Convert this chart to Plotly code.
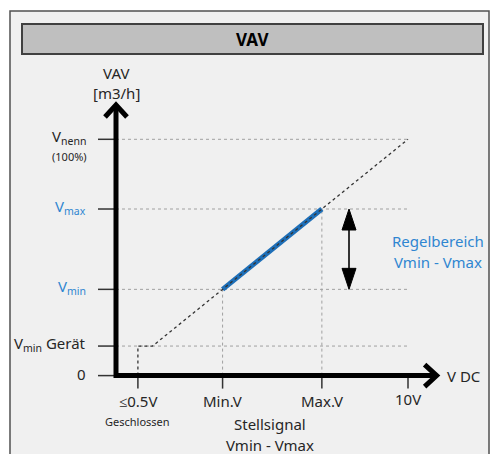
import plotly.graph_objects as go

# ---- data (schematic units: x in volt, y in % of V_nenn) ----
x_tick_vals = [0.75, 3.65, 7.05, 10.0]
x_tick_labels = ["≤0.5V", "Min.V", "Max.V", "10V"]
y_tick_vals = [100.0, 70.5, 36.5, 12.5, 0.0]
y_tick_labels = ["V<sub>nenn</sub>", "V<sub>max</sub>", "V<sub>min</sub>", "V<sub>min</sub> Gerät", "0"]
y_label_blue = [False, True, True, False, False]
curve_x = [0.75, 0.75, 1.25, 10.0]
curve_y = [0.0, 12.5, 12.5, 100.0]
range_x = [3.65, 7.05]
range_y = [36.5, 70.5]
x_tip = 10.98
y_tip = 114.5

W, H = 491, 454
PX_X = 29.2   # px per volt
PX_Y = 2.363  # px per %
X0 = -116 / PX_X
Y0 = -(H - 375.6) / PX_Y

def dx(px):
    return px / PX_X

def dy(px):
    return px / PX_Y

FONT = "Noto Sans"
DARK = "#262626"
BLUE = "#2f86d1"

fig = go.Figure()

# grid lines (dotted)
gx, gy = [], []
for v in y_tick_vals[:-1]:
    gx += [0, 10, None]
    gy += [v, v, None]
gx += [range_x[0], range_x[0], None, range_x[1], range_x[1], None]
gy += [0, range_y[0], None, 0, range_y[1], None]
fig.add_trace(go.Scatter(x=gx, y=gy, mode="lines",
                         line=dict(color="#a0a0a0", width=1, dash="dot"),
                         hoverinfo="skip", showlegend=False))

# ticks
tx, ty = [], []
for v in y_tick_vals:
    tx += [-dx(18), 0, None]
    ty += [v, v, None]
for v in x_tick_vals:
    tx += [v, v, None]
    ty += [0, -dy(13), None]
fig.add_trace(go.Scatter(x=tx, y=ty, mode="lines",
                         line=dict(color="#333333", width=1.5),
                         hoverinfo="skip", showlegend=False))

# blue control range
fig.add_trace(go.Scatter(x=range_x, y=range_y, mode="lines",
                         line=dict(color="#1e6fb8", width=5),
                         hoverinfo="skip", showlegend=False))
# characteristic curve (dotted)
fig.add_trace(go.Scatter(x=curve_x, y=curve_y, mode="lines",
                         line=dict(color="#333333", width=1.3, dash="dot"),
                         hoverinfo="skip", showlegend=False))

# main axes
fig.add_trace(go.Scatter(x=[0, 0, x_tip], y=[y_tip, 0, 0], mode="lines",
                         line=dict(color="black", width=5),
                         hoverinfo="skip", showlegend=False))
# arrow chevrons
fig.add_trace(go.Scatter(x=[-dx(11), 0, dx(11)], y=[y_tip - dy(12), y_tip, y_tip - dy(12)],
                         mode="lines", line=dict(color="black", width=5),
                         hoverinfo="skip", showlegend=False))
fig.add_trace(go.Scatter(x=[x_tip - dx(12), x_tip, x_tip - dx(12)], y=[dy(11), 0, -dy(11)],
                         mode="lines", line=dict(color="black", width=5),
                         hoverinfo="skip", showlegend=False))

# double arrow for control range
ax = 7.98
fig.add_trace(go.Scatter(x=[ax, ax], y=[range_y[0] + dy(10), range_y[1] - dy(10)], mode="lines",
                         line=dict(color="#333333", width=2),
                         hoverinfo="skip", showlegend=False))
for tip, sgn in [(range_y[1], -1), (range_y[0], 1)]:
    fig.add_trace(go.Scatter(x=[ax - dx(7), ax, ax + dx(7), ax - dx(7)],
                             y=[tip + sgn * dy(21), tip, tip + sgn * dy(21), tip + sgn * dy(21)],
                             mode="lines", fill="toself", fillcolor="black",
                             line=dict(color="black", width=1),
                             hoverinfo="skip", showlegend=False))

ann = []
def text(x, y, t, size=15, color=DARK, xanchor="center", yanchor="middle", bold=False):
    ann.append(dict(x=x, y=y, xref="x", yref="y", text=("<b>%s</b>" % t) if bold else t,
                    showarrow=False, xanchor=xanchor, yanchor=yanchor,
                    font=dict(family=FONT, size=size, color=color)))

# y labels
for v, lab, blue in zip(y_tick_vals, y_tick_labels, y_label_blue):
    text(-dx(28), v + dy(2), lab, color=BLUE if blue else DARK, xanchor="right")
text(-dx(47), 100 - dy(17), "(100%)", size=11)
# x labels
for v, lab in zip(x_tick_vals, x_tick_labels):
    yy = -dy(23) if lab == "10V" else -dy(25)
    text(v, yy, lab)
text(x_tick_vals[0], -dy(46), "Geschlossen", size=11)
text(5.27, -dy(48), "Stellsignal")
text(5.27, -dy(69), "Vmin - Vmax")
text(x_tip + dx(8), dy(0), "V DC", xanchor="left")
text(0, y_tip + dy(32), "VAV")
text(0, y_tip + dy(12), "[m3/h]")
text(11.03, 57, "Regelbereich", color=BLUE)
text(11.03, 48, "Vmin - Vmax", color=BLUE)

# title
ann.append(dict(x=252 / W, y=1 - 39 / H, xref="paper", yref="paper", text="<b>VAV</b>",
                showarrow=False, xanchor="center", yanchor="middle",
                font=dict(family=FONT, size=17, color="black")))

shapes = [
    dict(type="rect", xref="paper", yref="paper", x0=10 / W, x1=489 / W, y0=-0.05, y1=1 - 11 / H,
         fillcolor="#f0f0f0", line=dict(color="#505050", width=1.5), layer="below"),
    dict(type="rect", xref="paper", yref="paper", x0=22 / W, x1=483 / W, y0=1 - 54 / H, y1=1 - 24 / H,
         fillcolor="#bfbfbf", line=dict(color="#404040", width=2), layer="below"),
]

fig.update_layout(
    width=W, height=H, autosize=False,
    margin=dict(l=0, r=0, t=0, b=0),
    paper_bgcolor="white", plot_bgcolor="rgba(0,0,0,0)",
    xaxis=dict(range=[X0, X0 + W / PX_X], visible=False, fixedrange=True),
    yaxis=dict(range=[Y0, Y0 + H / PX_Y], visible=False, fixedrange=True),
    annotations=ann, shapes=shapes, showlegend=False,
)

fig.write_html("out.html", config={"displayModeBar": False},
               post_script="document.body.style.margin='0';document.body.style.overflow='hidden';")
